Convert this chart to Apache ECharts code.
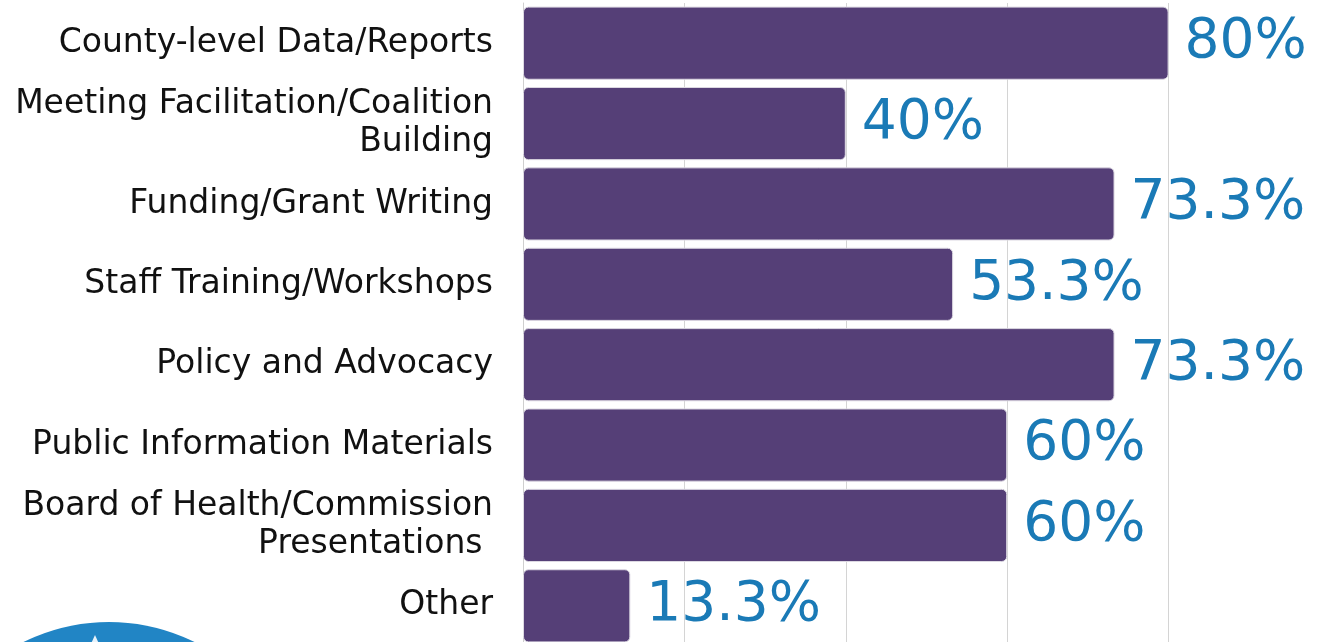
<!DOCTYPE html>
<html>
<head>
<meta charset="utf-8">
<style>
  html, body { margin: 0; padding: 0; background: #ffffff; }
  #chart { width: 1322px; height: 642px; }
</style>
<script src="https://cdn.jsdelivr.net/npm/echarts@6/dist/echarts.min.js"></script>
</head>
<body>
<div id="chart"></div>
<script>
const categories = [
  'County-level Data/Reports',
  'Meeting Facilitation/Coalition\nBuilding',
  'Funding/Grant Writing',
  'Staff Training/Workshops',
  'Policy and Advocacy',
  'Public Information Materials',
  'Board of Health/Commission\nPresentations ',
  'Other'
];
const values = [80, 40, 73.3, 53.3, 73.3, 60, 60, 13.3];
const valueLabels = ['80%', '40%', '73.3%', '53.3%', '73.3%', '60%', '60%', '13.3%'];

const chart = echarts.init(document.getElementById('chart'), null, { renderer: 'canvas' });
chart.setOption({
  backgroundColor: '#ffffff',
  animation: false,
  grid: { left: 523, width: 807, top: 3, height: 643, containLabel: false, outerBoundsMode: 'none' },
  xAxis: {
    type: 'value', min: 0, max: 100, interval: 20,
    axisLabel: { show: false }, axisTick: { show: false }, axisLine: { show: false },
    splitLine: { show: true, lineStyle: { color: '#d4d4d4', width: 1 } }
  },
  yAxis: {
    type: 'category', data: categories, inverse: true,
    axisTick: { show: false },
    axisLine: { show: true, lineStyle: { color: '#cfcfcf', width: 1 } },
    axisLabel: {
      color: '#111111', fontFamily: 'DejaVu Sans', fontSize: 33,
      lineHeight: 38, margin: 30, align: 'right'
    }
  },
  series: [{
    type: 'bar',
    data: values,
    barCategoryGap: '9%',
    itemStyle: { color: '#553f77', borderRadius: 5, borderColor: '#dcd8e2', borderWidth: 1 },
    label: {
      show: true, position: 'right', distance: 16,
      color: '#1a7ab6', fontFamily: 'DejaVu Sans', fontSize: 55,
      formatter: p => valueLabels[p.dataIndex]
    }
  }],
  graphic: [
    { type: 'circle', shape: { cx: 109, cy: 815, r: 193 }, style: { fill: '#2185c5' }, z: 10 },
    { type: 'polygon', shape: { points: [[95, 635], [90, 646], [100, 646]] }, style: { fill: '#e8f2fa' }, z: 11 }
  ]
});
</script>
</body>
</html>
